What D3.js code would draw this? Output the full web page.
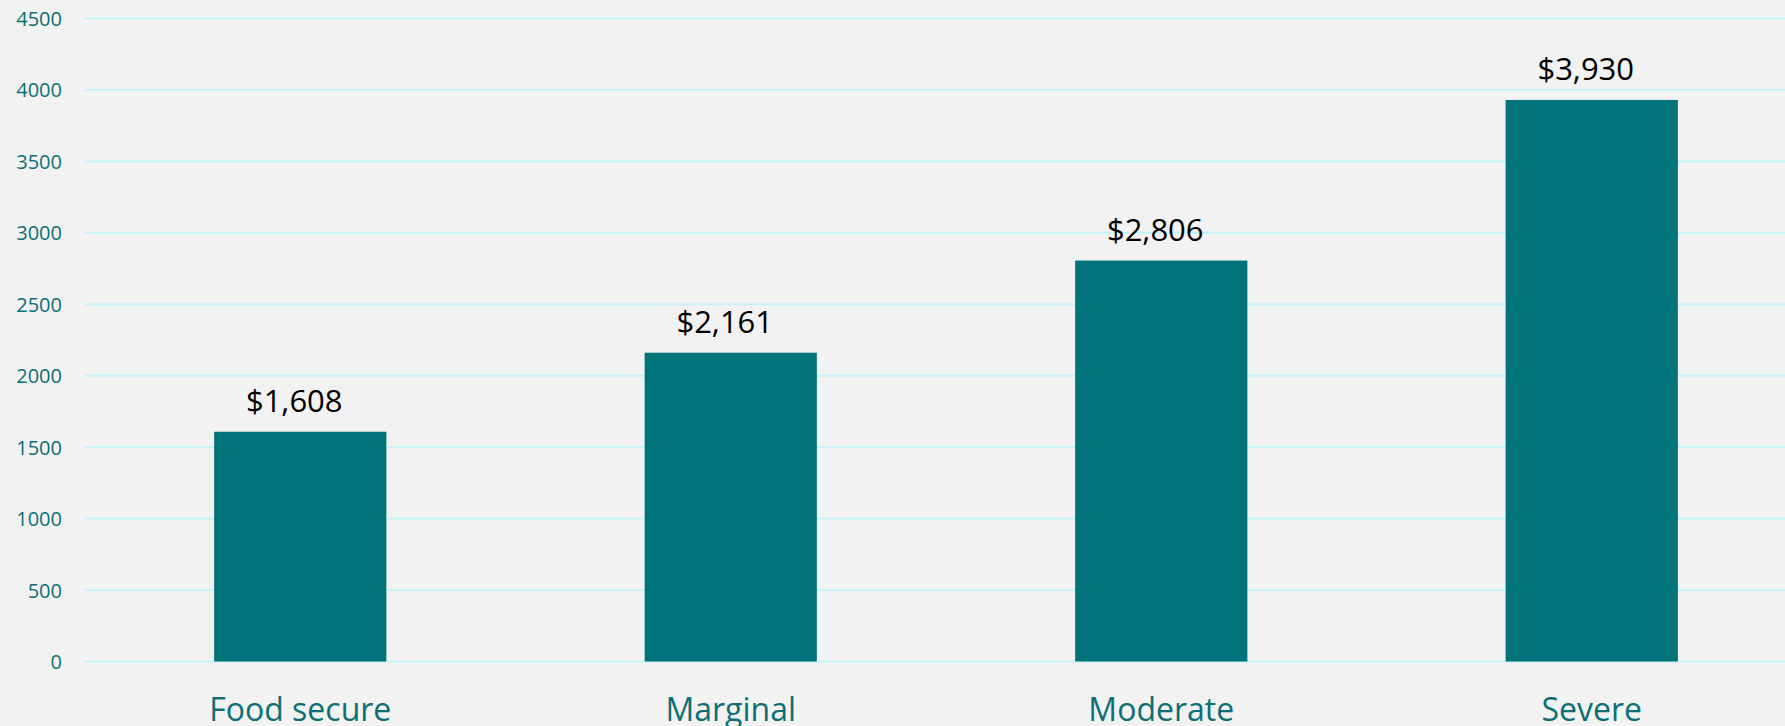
<!DOCTYPE html>
<html><head><meta charset="utf-8">
<script src="https://cdn.jsdelivr.net/npm/d3@7"></script>
<style>html,body{margin:0;padding:0;background:#f2f2f2;overflow:hidden}</style>
</head><body>
<svg id="chart" width="1785" height="726"></svg>
<script>
const categories = ["Food secure", "Marginal", "Moderate", "Severe"];
const values = [1608, 2161, 2806, 3930];
const yTicks = [0, 500, 1000, 1500, 2000, 2500, 3000, 3500, 4000, 4500];

const svg = d3.select("#chart");
const W = 1785, H = 726;
svg.append("rect").attr("width", W).attr("height", H).attr("fill", "#f2f2f2");

const x = d3.scaleBand().domain(categories).range([85, 1807]).paddingInner(0.6).paddingOuter(0.3);
const y = d3.scaleLinear().domain([0, 4500]).range([661.5, 18.5]);

// gridlines
svg.append("g").selectAll("line").data(yTicks).join("line")
  .attr("x1", 85).attr("x2", W)
  .attr("y1", d => y(d)).attr("y2", d => y(d))
  .attr("stroke", "#c3f3f8").attr("stroke-width", 2);

// y axis labels
const yAxis = d3.axisLeft(y).tickValues(yTicks).tickFormat(d3.format("d")).tickSize(0).tickPadding(0);
const gy = svg.append("g").attr("transform", "translate(62,0)").call(yAxis);
gy.select(".domain").remove();
gy.selectAll("text").attr("font-family", "'Open Sans', sans-serif").attr("font-size", 20)
  .attr("fill", "#0d6f75").attr("dy", "0.35em");

// bars
svg.append("g").selectAll("rect").data(values).join("rect")
  .attr("x", (d, i) => x(categories[i]))
  .attr("width", x.bandwidth())
  .attr("y", d => y(d))
  .attr("height", d => y(0) - y(d))
  .attr("fill", "#017479");

// value labels
const fmt = d3.format("$,");
svg.append("g").selectAll("text").data(values).join("text")
  .attr("x", (d, i) => x(categories[i]) + x.bandwidth() / 2 - 6)
  .attr("y", d => y(d) - 20)
  .attr("text-anchor", "middle")
  .attr("font-family", "'Open Sans', sans-serif").attr("font-size", 31)
  .attr("fill", "#000")
  .text(d => fmt(d));

// x axis labels
const xAxis = d3.axisBottom(x).tickSize(0).tickPadding(0);
const gx = svg.append("g").attr("transform", "translate(0,721)").call(xAxis);
gx.select(".domain").remove();
gx.selectAll("text").attr("font-family", "'Open Sans', sans-serif").attr("font-size", 32)
  .attr("fill", "#0d6f75").attr("dy", 0);
</script>
</body></html>
